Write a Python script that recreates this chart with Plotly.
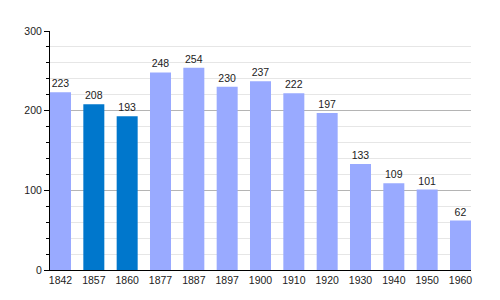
import plotly.graph_objects as go

years = ["1842", "1857", "1860", "1877", "1887", "1897", "1900", "1910", "1920", "1930", "1940", "1950", "1960"]
population = [223, 208, 193, 248, 254, 230, 237, 222, 197, 133, 109, 101, 62]
highlight = ["1857", "1860"]

LIGHT = "#99aaff"
DARK = "#0077cc"
colors = [DARK if y in highlight else LIGHT for y in years]

fig = go.Figure(go.Bar(
    x=years, y=population,
    marker=dict(color=colors, line=dict(width=0)),
    text=[str(v) for v in population],
    textposition="outside",
    textfont=dict(family="Liberation Sans, Arial", size=10.5, color="#222"),
    cliponaxis=False,
))

fig.update_layout(
    width=500, height=300,
    margin=dict(l=50, r=29, t=31, b=30),
    paper_bgcolor="white", plot_bgcolor="white",
    bargap=0.37,
    showlegend=False,
    font=dict(family="Liberation Sans, Arial", size=10, color="#222"),
    xaxis=dict(
        type="category",
        range=[-0.315, 12.315],
        showline=True, linecolor="black", linewidth=1,
        showgrid=False, ticks="", tickfont=dict(size=10.5),
        fixedrange=True,
    ),
    yaxis=dict(
        range=[0, 300],
        tickvals=[0, 100, 200, 300],
        showline=True, linecolor="black", linewidth=1,
        showgrid=True, gridcolor="#b4b4b4", gridwidth=1,
        ticks="outside", ticklen=5, tickcolor="black",
        zeroline=False,
        minor=dict(dtick=20, showgrid=True, gridcolor="#e6e6e6",
                   ticks="outside", ticklen=3, tickcolor="black"),
        tickfont=dict(size=10.5),
    ),
)

fig.write_html("out.html")
